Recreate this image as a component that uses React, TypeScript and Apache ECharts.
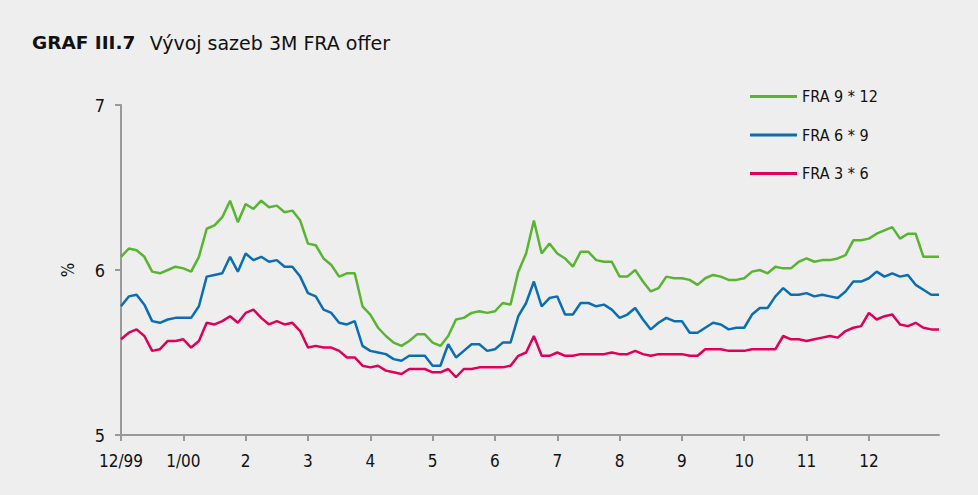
import React, { useEffect, useRef } from "react";
import * as echarts from "echarts";

// Month tick labels (one tick every 8 samples = 1 month)
const monthLabels = ["12/99", "1/00", "2", "3", "4", "5", "6", "7", "8", "9", "10", "11", "12"];
const samplesPerMonth = 8;

// FRA 9 * 12 (%), sampled every 1/8 month starting at 12/99
const fra912 = [
  6.08, 6.13, 6.12, 6.08, 5.99, 5.98, 6.0, 6.02, 6.01, 5.99,
  6.08, 6.25, 6.27, 6.32, 6.42, 6.29, 6.4, 6.37, 6.42, 6.38,
  6.39, 6.35, 6.36, 6.3, 6.16, 6.15, 6.07, 6.03, 5.96, 5.98,
  5.98, 5.78, 5.73, 5.65, 5.6, 5.56, 5.54, 5.57, 5.61, 5.61,
  5.56, 5.54, 5.6, 5.7, 5.71, 5.74, 5.75, 5.74, 5.75, 5.8,
  5.79, 5.99, 6.1, 6.3, 6.1, 6.16, 6.1, 6.07, 6.02, 6.11,
  6.11, 6.06, 6.05, 6.05, 5.96, 5.96, 6.0, 5.93, 5.87, 5.89,
  5.96, 5.95, 5.95, 5.94, 5.91, 5.95, 5.97, 5.96, 5.94, 5.94,
  5.95, 5.99, 6.0, 5.98, 6.02, 6.01, 6.01, 6.05, 6.07, 6.05,
  6.06, 6.06, 6.07, 6.09, 6.18, 6.18, 6.19, 6.22, 6.24, 6.26,
  6.19, 6.22, 6.22, 6.08, 6.08, 6.08,
];

// FRA 6 * 9 (%)
const fra69 = [
  5.78, 5.84, 5.85, 5.79, 5.69, 5.68, 5.7, 5.71, 5.71, 5.71,
  5.78, 5.96, 5.97, 5.98, 6.08, 5.99, 6.1, 6.06, 6.08, 6.05,
  6.06, 6.02, 6.02, 5.96, 5.86, 5.84, 5.76, 5.74, 5.68, 5.67,
  5.69, 5.54, 5.51, 5.5, 5.49, 5.46, 5.45, 5.48, 5.48, 5.48,
  5.42, 5.42, 5.55, 5.47, 5.51, 5.55, 5.55, 5.51, 5.52, 5.56,
  5.56, 5.72, 5.8, 5.93, 5.78, 5.83, 5.84, 5.73, 5.73, 5.8,
  5.8, 5.78, 5.79, 5.76, 5.71, 5.73, 5.77, 5.7, 5.64, 5.68,
  5.71, 5.69, 5.69, 5.62, 5.62, 5.65, 5.68, 5.67, 5.64, 5.65,
  5.65, 5.73, 5.77, 5.77, 5.84, 5.89, 5.85, 5.85, 5.86, 5.84,
  5.85, 5.84, 5.83, 5.87, 5.93, 5.93, 5.95, 5.99, 5.96, 5.98,
  5.96, 5.97, 5.91, 5.88, 5.85, 5.85,
];

// FRA 3 * 6 (%)
const fra36 = [
  5.58, 5.62, 5.64, 5.6, 5.51, 5.52, 5.57, 5.57, 5.58, 5.53,
  5.57, 5.68, 5.67, 5.69, 5.72, 5.68, 5.74, 5.76, 5.71, 5.67,
  5.69, 5.67, 5.68, 5.63, 5.53, 5.54, 5.53, 5.53, 5.51, 5.47,
  5.47, 5.42, 5.41, 5.42, 5.39, 5.38, 5.37, 5.4, 5.4, 5.4,
  5.38, 5.38, 5.4, 5.35, 5.4, 5.4, 5.41, 5.41, 5.41, 5.41,
  5.42, 5.48, 5.5, 5.6, 5.48, 5.48, 5.5, 5.48, 5.48, 5.49,
  5.49, 5.49, 5.49, 5.5, 5.49, 5.49, 5.51, 5.49, 5.48, 5.49,
  5.49, 5.49, 5.49, 5.48, 5.48, 5.52, 5.52, 5.52, 5.51, 5.51,
  5.51, 5.52, 5.52, 5.52, 5.52, 5.6, 5.58, 5.58, 5.57, 5.58,
  5.59, 5.6, 5.59, 5.63, 5.65, 5.66, 5.74, 5.7, 5.72, 5.73,
  5.67, 5.66, 5.68, 5.65, 5.64, 5.64,
];

const seriesNames = ["FRA 9 * 12", "FRA 6 * 9", "FRA 3 * 6"];
const FONT = "'DejaVu Sans Condensed', 'Liberation Sans Narrow', 'Open Sans', sans-serif";
const TITLE_FONT = "'DejaVu Sans', 'Open Sans', sans-serif";

export default function App() {
  const ref = useRef<HTMLDivElement>(null);

  useEffect(() => {
    document.body.style.margin = "0";
    if (!ref.current) return;
    const chart = echarts.init(ref.current, null, { renderer: "svg" });
    const categories = fra912.map((_, i) => String(i));
    const isMonth = (i: number) =>
      i % samplesPerMonth === 0 && i / samplesPerMonth < monthLabels.length;
    const axisColor = "#999999";

    chart.setOption({
      animation: false,
      backgroundColor: "#eeeeee",
      textStyle: { fontFamily: FONT },
      title: {
        left: 32,
        top: 33,
        padding: 0,
        text: "{b|GRAF III.7}  {n|Vývoj sazeb 3M FRA offer}",
        textStyle: {
          fontWeight: "normal",
          rich: {
            b: { fontFamily: TITLE_FONT, fontWeight: "bold", fontSize: 18.5, color: "#111" },
            n: { fontFamily: TITLE_FONT, fontWeight: "normal", fontSize: 19, color: "#111", padding: [0, 0, 0, 4] },
          },
        },
      },
      legend: {
        orient: "vertical",
        left: 750,
        top: 88.5,
        padding: 0,
        itemWidth: 47,
        itemHeight: 3,
        itemGap: 22.5,
        icon: "rect",
        data: seriesNames,
        textStyle: { fontFamily: FONT, fontSize: 16, color: "#111", lineHeight: 16, padding: [0, 0, 0, 0] },
      },
      grid: { left: 121, right: 39, top: 105, bottom: 60, containLabel: false },
      xAxis: {
        type: "category",
        data: categories,
        boundaryGap: false,
        axisLine: { show: true, lineStyle: { color: axisColor, width: 2 } },
        axisTick: {
          show: true,
          length: 6,
          interval: (i: number) => isMonth(i),
          lineStyle: { color: axisColor, width: 2 },
        },
        axisLabel: {
          interval: (i: number) => isMonth(i),
          formatter: (_v: string, i: number) => monthLabels[i / samplesPerMonth] ?? "",
          fontFamily: FONT,
          fontSize: 17,
          color: "#111",
          margin: 17,
        },
        splitLine: { show: false },
      },
      yAxis: {
        type: "value",
        min: 5,
        max: 7,
        interval: 1,
        name: "%",
        nameLocation: "middle",
        nameRotate: 90,
        nameGap: 45,
        nameTextStyle: { fontFamily: FONT, fontSize: 17, color: "#111" },
        axisLine: { show: true, lineStyle: { color: axisColor, width: 2 } },
        axisTick: { show: true, length: 6, lineStyle: { color: axisColor, width: 2 } },
        axisLabel: { fontFamily: FONT, fontSize: 18, color: "#111", margin: 16 },
        splitLine: { show: false },
      },
      series: [
        { name: seriesNames[0], type: "line", data: fra912, color: "#58b431" },
        { name: seriesNames[1], type: "line", data: fra69, color: "#0b6db5" },
        { name: seriesNames[2], type: "line", data: fra36, color: "#e0005a" },
      ].map((s) => ({
        ...s,
        showSymbol: false,
        symbol: "none",
        lineStyle: { width: 2.5, color: s.color },
        itemStyle: { color: s.color },
      })),
    });

    return () => chart.dispose();
  }, []);

  return <div ref={ref} style={{ width: 978, height: 495 }} />;
}
